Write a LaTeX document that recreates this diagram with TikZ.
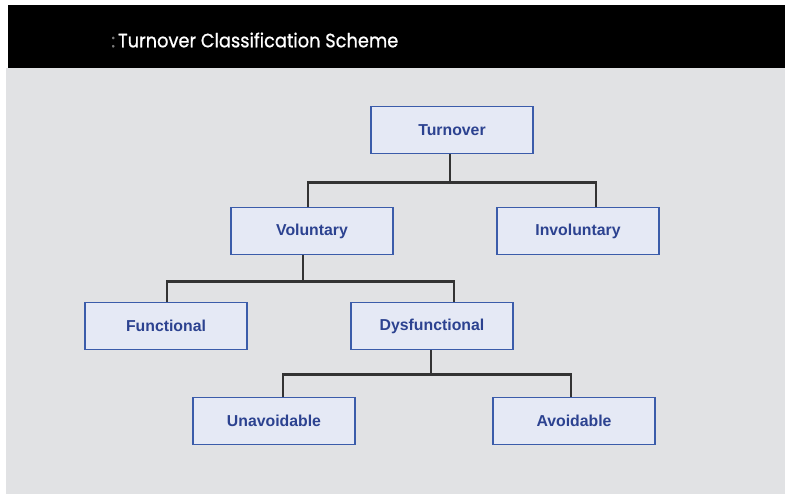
\documentclass[tikz,border=0pt]{standalone}
\usepackage{fontspec}
\setmainfont{Liberation Sans}
\newfontfamily\titlefont[FakeBold=0.8]{Poppins}
\usetikzlibrary{calc}
\definecolor{band}{HTML}{000000}
\definecolor{paper}{HTML}{E1E2E4}
\definecolor{boxfill}{HTML}{E5E9F5}
\definecolor{boxline}{HTML}{3B5CAA}
\definecolor{boxtext}{HTML}{2C4290}
\definecolor{wire}{HTML}{333333}
\definecolor{dim}{HTML}{7A7A7A}
\tikzset{
  box/.style={draw=boxline, fill=boxfill, line width=1.1pt, minimum width=3.24cm, minimum height=0.94cm, inner sep=0pt, text=boxtext, font=\bfseries\fontsize{9}{11}\selectfont},
  wire/.style={draw=wire, line width=1.3pt},
  head/.style={text=white, inner sep=0pt, font=\titlefont\fontsize{11}{13}\selectfont},
}

\begin{document}
\begin{tikzpicture}[x=0.02cm,y=-0.02cm]
  \useasboundingbox (0,0) rectangle (785,495);
  \fill[white] (0,0) rectangle (785,495);
  \fill[paper] (6,68) rectangle (785,494);
  \fill[band] (8,5) rectangle (785,68);
  \node[head, anchor=west] (title) at (111,40)
    {\scalebox{0.92}[1]{{\color{dim}:}\,Turnover Classification Scheme}};

  % the boxes
  \node[box] (turnover) at (452,130) {Turnover};
  \node[box] (vol) at (312,231) {Voluntary};
  \node[box] (invol) at (578,231) {Involuntary};
  \node[box] (func) at (166,326) {Functional};
  \node[box] (dysf) at (432,326) {Dysfunctional};
  \node[box] (unav) at (274,421) {Unavoidable};
  \node[box] (avoid) at (574,421) {Avoidable};

  % connectors
  \draw[wire] ([xshift=-0.04cm]turnover.south) -- ++(0,28) coordinate (tbus);
  \draw[wire] ([xshift=-0.08cm]vol.north) |- (tbus) -| ([xshift=0.36cm]invol.north);
  \draw[wire] ([xshift=-0.18cm]vol.south) -- ++(0,26) coordinate (vbus);
  \draw[wire] ([xshift=0.02cm]func.north) |- (vbus) -| ([xshift=0.44cm]dysf.north);
  \draw[wire] ([xshift=-0.02cm]dysf.south) -- ++(0,24) coordinate (dbus);
  \draw[wire] ([xshift=0.18cm]unav.north) |- (dbus) -| ([xshift=-0.06cm]avoid.north);
\end{tikzpicture}
\end{document}
